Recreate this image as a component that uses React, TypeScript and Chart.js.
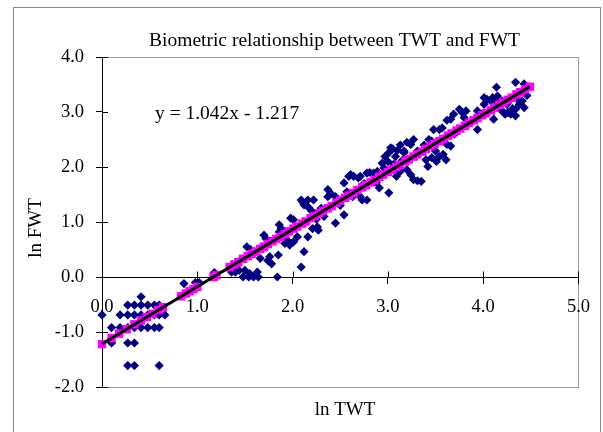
import React, { useEffect, useRef } from "react";
import { Chart, registerables } from "chart.js";

Chart.register(...registerables);

// ---- Data ----
const chartTitle = "Biometric relationship between TWT and FWT";
const xAxisTitle = "ln TWT";
const yAxisTitle = "ln FWT";
const equationText = "y = 1.042x - 1.217";

const xTickValues = [0, 1, 2, 3, 4, 5];
const yTickValues = [-2, -1, 0, 1, 2, 3, 4];

// observed (ln TWT, ln FWT)
const observedPoints: [number, number][] = [
  [0.0, -0.69],
  [0.1, -0.92], [0.1, -1.2],
  [0.19, -0.69], [0.19, -0.92],
  [0.27, -0.51], [0.27, -0.69], [0.27, -0.92], [0.27, -1.2], [0.27, -1.61],
  [0.34, -0.51], [0.34, -0.69], [0.34, -0.92], [0.34, -1.2], [0.34, -1.61],
  [0.41, -0.36], [0.41, -0.51], [0.41, -0.69], [0.41, -0.92],
  [0.48, -0.51], [0.48, -0.69], [0.48, -0.92],
  [0.55, -0.51], [0.55, -0.69], [0.55, -0.92],
  [0.6, -0.51], [0.6, -0.69], [0.6, -0.92], [0.6, -1.61],
  [0.66, -0.69],
  [0.86, -0.12], [0.98, -0.1], [1.02, -0.1],
  [1.18, 0.08],
  [1.36, 0.09], [1.4, 0.09], [1.44, 0.12],
  [1.48, 0.0], [1.54, 0.0], [1.59, 0.0], [1.64, 0.0], [1.84, 0.0],
  [1.5, 0.12], [1.55, 0.06], [1.63, 0.09],
  [1.52, 0.55], [1.56, 0.5], [1.6, 0.46],
  [1.66, 0.34], [1.7, 0.76], [1.72, 0.7], [1.76, 0.37], [1.78, 0.24], [1.74, 0.3],
  [1.85, 0.4], [1.86, 0.82], [1.86, 0.95], [1.88, 0.88],
  [1.92, 0.61], [1.97, 0.58], [2.01, 0.64], [1.95, 0.66],
  [1.98, 1.07], [2.01, 1.04], [2.05, 0.73], [2.09, 0.18], [2.12, 0.46], [2.16, 0.73],
  [2.09, 1.4], [2.12, 1.31], [2.16, 1.4], [2.22, 1.4], [2.11, 1.36], [2.17, 1.26], [2.2, 1.2],
  [2.21, 0.88], [2.27, 0.85], [2.26, 0.91],
  [2.37, 1.59], [2.37, 1.46], [2.4, 1.52], [2.45, 1.46],
  [2.45, 0.98], [2.54, 1.13], [2.3, 1.25], [2.33, 1.1],
  [2.54, 1.71], [2.59, 1.83], [2.64, 1.83], [2.71, 1.83], [2.61, 1.86], [2.69, 1.8],
  [2.78, 1.89], [2.85, 1.89], [2.81, 1.9], [2.89, 1.92],
  [2.63, 1.46], [2.66, 1.53], [2.71, 1.46], [2.73, 1.4], [2.78, 1.4], [2.91, 1.62],
  [2.94, 2.07], [2.96, 1.98], [2.97, 2.19], [3.01, 2.26], [3.03, 2.35], [3.05, 2.33],
  [3.08, 2.19], [3.17, 2.26], [3.13, 2.4], [3.2, 2.45], [3.0, 2.1], [3.1, 2.3],
  [3.01, 1.53], [3.09, 1.83], [3.13, 1.92],
  [3.17, 2.29], [3.2, 1.95], [3.24, 1.86], [3.27, 1.77], [3.31, 1.75], [3.24, 2.41],
  [3.27, 2.5], [3.31, 2.29], [3.35, 1.74],
  [3.4, 2.13], [3.42, 2.01], [3.43, 2.5], [3.46, 2.47], [3.46, 2.17], [3.5, 2.29],
  [3.51, 2.1], [3.54, 2.19], [3.61, 2.13], [3.62, 2.41], [3.66, 2.38], [3.58, 2.23],
  [3.48, 2.68], [3.57, 2.71], [3.66, 2.87], [3.69, 2.96], [3.75, 3.05], [3.78, 2.99],
  [3.82, 3.02], [3.54, 2.68], [3.62, 2.85], [3.8, 2.9], [3.84, 2.8],
  [3.94, 3.02], [3.98, 2.96], [3.94, 2.68],
  [4.01, 3.26], [4.04, 3.23], [4.08, 3.2], [4.1, 3.26], [4.15, 3.29], [4.14, 3.45], [4.13, 3.2],
  [4.01, 3.14], [4.11, 2.87],
  [4.2, 3.2], [4.25, 3.14], [4.36, 3.23], [4.41, 3.2], [4.38, 3.14], [4.43, 3.08], [4.31, 3.06],
  [4.18, 3.05], [4.2, 3.02], [4.23, 2.96], [4.29, 2.96], [4.34, 2.93], [4.26, 2.99], [4.34, 3.05],
  [4.34, 3.54], [4.43, 3.51], [4.46, 3.3],
  [2.25, 1.05], [2.5, 1.3], [2.57, 1.55], [2.75, 1.7], [2.88, 1.72], [3.06, 2.05],
  [3.15, 2.12], [3.38, 2.4], [3.7, 2.6], [3.88, 2.82], [4.05, 3.0], [1.45, 0.3], [1.9, 0.75],
];

// predicted values (magenta squares)
const predictedTWT = [
  0.0, 0.1, 0.18, 0.26, 0.34, 0.41, 0.47, 0.53, 0.59, 0.64,
  0.83, 0.88, 0.92, 0.96, 1.0, 1.17, 1.2,
  1.34, 1.39, 1.43, 1.48, 1.53, 1.57, 1.61, 1.66, 1.7, 1.74, 1.79, 1.83, 1.87, 1.92, 1.96,
  2.01, 2.05, 2.1, 2.14, 2.19, 2.23, 2.28, 2.32, 2.37, 2.41, 2.46, 2.5, 2.55, 2.59, 2.64,
  2.68, 2.73, 2.77, 2.82, 2.86, 2.91, 2.95, 3.0, 3.04, 3.09, 3.13, 3.18, 3.22, 3.27, 3.31,
  3.36, 3.4, 3.45, 3.49, 3.54, 3.58, 3.63, 3.67, 3.72, 3.76, 3.81, 3.85, 3.9, 3.94, 3.99,
  4.03, 4.08, 4.12, 4.17, 4.21, 4.26, 4.3, 4.35, 4.39, 4.44, 4.49,
];
const predictedFWT = [
  -1.22, -1.11, -1.03, -0.95, -0.86, -0.79, -0.73, -0.67, -0.6, -0.55,
  -0.35, -0.3, -0.26, -0.22, -0.18, 0.0, 0.03,
  0.18, 0.23, 0.27, 0.33, 0.38, 0.42, 0.46, 0.51, 0.55, 0.6, 0.65, 0.69, 0.73, 0.78, 0.83,
  0.88, 0.92, 0.97, 1.01, 1.07, 1.11, 1.16, 1.2, 1.25, 1.29, 1.35, 1.39, 1.44, 1.48, 1.53,
  1.58, 1.63, 1.67, 1.72, 1.76, 1.82, 1.86, 1.91, 1.95, 2.0, 2.04, 2.1, 2.14, 2.19, 2.23,
  2.28, 2.33, 2.38, 2.42, 2.47, 2.51, 2.57, 2.61, 2.66, 2.7, 2.75, 2.8, 2.85, 2.89, 2.94,
  2.98, 3.03, 3.08, 3.13, 3.17, 3.22, 3.26, 3.32, 3.36, 3.41, 3.46,
];

// linear trend line shown on the chart
const trendSlope = 1.042;
const trendIntercept = -1.217;
const trendRange = [0, 4.49];

const SERIF = '"Liberation Serif", "Times New Roman", serif';

const decorPlugin = {
  id: "decor",
  beforeDraw(chart: any) {
    const ctx = chart.ctx;
    const a = chart.chartArea;
    ctx.save();
    ctx.fillStyle = "#ffffff";
    ctx.fillRect(0, 0, chart.width, chart.height);
    ctx.strokeStyle = "#868686";
    ctx.lineWidth = 1;
    ctx.strokeRect(13.5, 7.5, 587, 440);
    ctx.strokeStyle = "#9a9a9a";
    ctx.strokeRect(Math.round(a.left) + 0.5, Math.round(a.top) + 0.5, Math.round(a.right - a.left), Math.round(a.bottom - a.top));
    ctx.restore();
  },
  afterDraw(chart: any) {
    const ctx = chart.ctx;
    const a = chart.chartArea;
    const xs = chart.scales.x;
    const ys = chart.scales.y;
    ctx.save();
    // inner halves of the crossing tick marks
    ctx.strokeStyle = "#000";
    ctx.lineWidth = 1;
    ctx.beginPath();
    const y0 = Math.round(ys.getPixelForValue(0)) + 0.5;
    xTickValues.forEach((v) => {
      const px = Math.round(xs.getPixelForValue(v)) + 0.5;
      ctx.moveTo(px, y0 - 6);
      ctx.lineTo(px, y0);
    });
    yTickValues.forEach((v) => {
      const py = Math.round(ys.getPixelForValue(v)) + 0.5;
      ctx.moveTo(a.left, py);
      ctx.lineTo(a.left + 6, py);
    });
    ctx.stroke();

    ctx.fillStyle = "#000";
    ctx.textBaseline = "alphabetic";
    ctx.font = `19.5px ${SERIF}`;
    ctx.textAlign = "center";
    ctx.fillText(chartTitle, 334.5, 46);
    ctx.textAlign = "left";
    ctx.fillText(equationText, 155, 119);
    ctx.font = `19px ${SERIF}`;
    ctx.textAlign = "center";
    ctx.fillText(xAxisTitle, 345, 415);
    ctx.translate(41, 228);
    ctx.rotate(-Math.PI / 2);
    ctx.fillText(yAxisTitle, 0, 0);
    ctx.restore();
  },
};

export default function App() {
  const canvasRef = useRef<HTMLCanvasElement | null>(null);

  useEffect(() => {
    if (!canvasRef.current) return;
    const tickFont = { family: SERIF, size: 18.5 };
    const chart = new Chart(canvasRef.current, {
      type: "scatter",
      data: {
        datasets: [
          {
            type: "line",
            label: "Trend",
            data: trendRange.map((x) => ({ x, y: trendSlope * x + trendIntercept })),
            borderColor: "#000000",
            borderWidth: 3,
            pointRadius: 0,
            fill: false,
            clip: false,
            order: 0,
          } as any,
          {
            label: "Predicted FWT",
            data: predictedTWT.map((x, i) => ({ x, y: predictedFWT[i] })),
            pointStyle: "rect",
            pointRadius: 6,
            backgroundColor: "#FF00FF",
            borderColor: "#FF00FF",
            borderWidth: 0,
            clip: false,
            order: 1,
          } as any,
          {
            label: "FWT",
            data: observedPoints.map(([x, y]) => ({ x, y })),
            pointStyle: "rectRot",
            pointRadius: 4.6,
            backgroundColor: "#000080",
            borderColor: "#000080",
            borderWidth: 0,
            clip: false,
            order: 2,
          } as any,
        ],
      },
      options: {
        responsive: false,
        animation: false,
        devicePixelRatio: 1,
        layout: { padding: { top: 57, bottom: 45, right: 23, left: 0 } },
        plugins: {
          legend: { display: false },
          tooltip: { enabled: false },
          title: { display: false },
        },
        scales: {
          x: {
            type: "linear",
            position: { y: 0 } as any,
            min: 0,
            max: 5,
            afterBuildTicks: (scale: any) => {
              scale.ticks = xTickValues.map((value) => ({ value }));
            },
            ticks: {
              font: tickFont,
              color: "#000",
              padding: 13,
              maxRotation: 0,
              autoSkip: false,
              callback: (v: any) => Number(v).toFixed(1),
            },
            grid: { drawOnChartArea: false, tickLength: 6, color: "#000" },
            border: { color: "#000", width: 1 },
          },
          y: {
            type: "linear",
            position: "left",
            min: -2,
            max: 4,
            afterFit: (scale: any) => {
              scale.width = 102;
            },
            afterBuildTicks: (scale: any) => {
              scale.ticks = yTickValues.map((value) => ({ value }));
            },
            ticks: {
              font: tickFont,
              color: "#000",
              padding: 12,
              autoSkip: false,
              callback: (v: any) => Number(v).toFixed(1),
            },
            grid: { drawOnChartArea: false, tickLength: 6, color: "#000" },
            border: { color: "#000", width: 1 },
          },
        },
      },
      plugins: [decorPlugin],
    });
    return () => chart.destroy();
  }, []);

  return (
    <div style={{ position: "fixed", left: 0, top: 0, width: 603, height: 432, background: "#fff" }}>
      <canvas ref={canvasRef} width={603} height={432} style={{ display: "block" }} />
    </div>
  );
}
